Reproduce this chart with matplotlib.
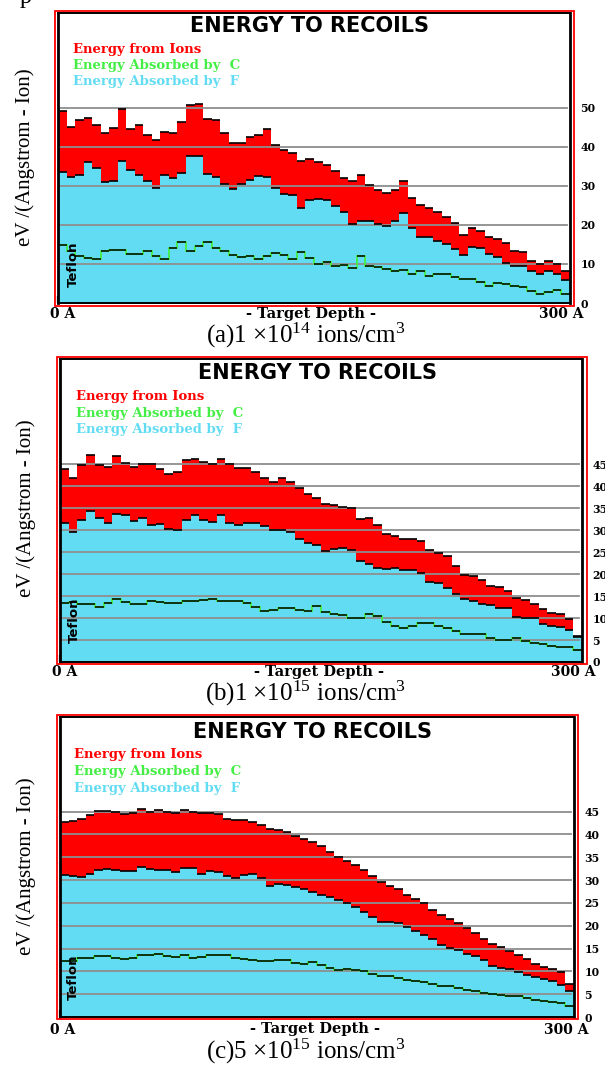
import numpy as np
import matplotlib
matplotlib.use('Agg')
import matplotlib.pyplot as plt
from matplotlib.patches import Rectangle

plt.rcParams['font.family'] = ['DejaVu Sans']
plt.rcParams['mathtext.fontset'] = 'custom'
plt.rcParams['mathtext.rm'] = 'Liberation Serif'
plt.rcParams['mathtext.it'] = 'Liberation Serif:italic'
plt.rcParams['mathtext.bf'] = 'Liberation Serif:bold'

W, H = 605, 1067

# 60 depth bins, 5 A each
depth_edges = np.linspace(0, 300, 61)

# (a) 1e14
ions_a = [49.1, 45.1, 46.8, 47.4, 45.5, 43.5, 44.9, 49.6, 44.6, 45.5, 43.0, 41.7, 43.8, 43.6, 46.3,
          50.6, 50.8, 47.0, 46.8, 43.4, 41.0, 41.0, 42.5, 43.1, 44.6, 40.4, 39.1, 38.3, 36.3, 36.8,
          36.0, 35.3, 33.8, 32.1, 31.1, 32.8, 30.2, 28.8, 28.2, 28.9, 31.1, 26.8, 25.1, 24.3, 23.4,
          22.1, 20.4, 17.5, 19.2, 18.5, 17.0, 16.4, 15.3, 13.4, 13.0, 10.7, 10.0, 10.7, 10.0, 8.1]
f_a = [33.4, 32.2, 32.8, 36.2, 34.5, 30.9, 31.1, 36.3, 34.0, 32.8, 31.1, 29.4, 32.8, 31.9, 33.2,
       37.6, 37.6, 33.0, 32.3, 30.4, 29.2, 30.4, 31.5, 32.4, 32.3, 29.4, 27.8, 27.7, 24.4, 26.4,
       26.5, 26.3, 24.7, 23.2, 20.2, 21.1, 21.1, 20.2, 19.8, 20.9, 23.0, 19.2, 17.0, 17.0, 15.9,
       15.1, 13.9, 12.4, 14.3, 14.1, 12.5, 11.8, 10.2, 9.4, 9.4, 8.3, 7.3, 8.3, 7.3, 6.0]
c_a = [14.9, 13.2, 11.9, 11.5, 11.3, 13.4, 13.6, 13.6, 12.5, 12.5, 13.2, 11.9, 11.3, 14.1, 15.6,
       13.4, 14.5, 15.5, 14.1, 13.2, 12.2, 11.7, 11.9, 11.3, 12.0, 12.8, 12.4, 11.3, 13.0, 11.5,
       10.0, 10.5, 9.4, 9.6, 9.0, 11.9, 9.4, 9.1, 8.7, 8.1, 8.4, 7.3, 8.3, 6.8, 7.5,
       7.4, 6.6, 6.2, 6.2, 5.4, 4.4, 5.0, 4.8, 4.3, 4.0, 3.0, 2.4, 2.8, 3.2, 2.3]

# (b) 1e15
ions_b = [44.0, 41.8, 44.8, 47.2, 44.9, 44.5, 46.8, 45.3, 44.5, 45.2, 45.0, 43.9, 42.7, 43.2, 46.0,
          46.2, 45.6, 45.0, 46.2, 45.2, 44.1, 44.1, 43.3, 42.0, 40.9, 41.8, 41.1, 39.7, 38.3, 37.3,
          35.9, 35.8, 35.4, 35.0, 32.6, 32.8, 31.1, 29.1, 28.8, 28.1, 28.1, 27.6, 25.4, 24.8, 24.1,
          21.8, 19.9, 19.5, 18.6, 17.3, 17.1, 16.1, 14.6, 14.1, 13.1, 12.0, 11.2, 10.9, 9.7, 6.0]
f_b = [31.6, 29.7, 32.4, 34.4, 32.8, 31.6, 33.7, 33.4, 32.0, 32.8, 31.3, 31.4, 30.3, 30.0, 32.4,
       33.4, 32.4, 31.9, 33.5, 31.6, 31.3, 31.7, 31.6, 30.9, 30.0, 30.1, 29.6, 28.1, 27.2, 26.7,
       25.2, 25.8, 25.9, 25.4, 23.0, 22.3, 21.4, 21.1, 21.3, 20.9, 21.0, 20.2, 18.2, 18.0, 16.9,
       15.4, 14.3, 14.0, 13.1, 12.9, 12.4, 12.2, 10.3, 10.1, 10.0, 8.6, 8.3, 8.0, 7.2, 5.6]
c_b = [13.5, 13.6, 13.3, 13.1, 12.6, 13.5, 14.3, 13.7, 13.1, 13.3, 13.9, 13.7, 13.4, 13.4, 13.9,
       13.9, 14.2, 14.4, 13.9, 14.0, 14.0, 13.4, 12.5, 11.6, 11.8, 12.4, 12.2, 11.9, 11.6, 12.7,
       11.5, 11.0, 10.7, 10.1, 10.1, 11.0, 10.5, 9.0, 8.1, 7.8, 8.1, 8.8, 8.8, 8.2, 7.7,
       7.1, 6.3, 6.3, 6.3, 5.4, 5.1, 5.0, 5.4, 4.8, 4.4, 4.1, 3.6, 3.5, 3.5, 2.7]

# (c) 5e15
ions_c = [42.7, 43.0, 43.4, 44.2, 45.2, 45.1, 45.0, 44.5, 44.7, 45.6, 44.9, 45.4, 45.0, 44.6, 45.4,
          45.0, 44.7, 44.6, 44.5, 43.4, 43.1, 43.1, 42.8, 42.1, 41.1, 40.9, 40.6, 39.7, 38.9, 38.4,
          37.5, 36.2, 35.1, 34.2, 33.3, 32.2, 30.9, 29.5, 28.7, 28.0, 26.8, 25.8, 24.9, 23.4, 22.4,
          21.4, 20.5, 19.4, 18.3, 17.0, 15.9, 15.4, 14.5, 13.6, 12.7, 11.7, 11.0, 10.5, 9.8, 7.2]
f_c = [31.1, 30.8, 30.6, 31.3, 32.3, 32.4, 32.3, 31.9, 32.0, 32.9, 32.4, 32.2, 32.2, 31.8, 32.6,
       32.6, 31.4, 31.9, 31.7, 30.9, 30.5, 31.1, 31.3, 30.4, 28.7, 29.1, 28.9, 28.4, 28.1, 27.3,
       26.7, 26.3, 25.6, 24.9, 24.0, 22.9, 21.9, 20.9, 20.7, 20.6, 19.7, 18.9, 18.0, 17.0, 15.7,
       15.2, 14.6, 13.9, 13.4, 12.4, 11.2, 10.8, 10.5, 9.9, 9.2, 8.8, 8.3, 7.9, 7.0, 5.7]
c_c = [12.2, 12.3, 12.9, 13.0, 13.4, 13.4, 13.0, 12.7, 13.0, 13.5, 13.5, 13.8, 13.4, 13.2, 13.5,
       13.0, 13.2, 13.5, 13.5, 13.5, 13.0, 12.7, 12.5, 12.2, 12.3, 12.4, 12.4, 11.9, 11.5, 12.0,
       11.4, 10.7, 10.4, 10.5, 10.3, 10.1, 9.5, 9.0, 8.9, 8.6, 8.2, 7.9, 7.6, 7.2, 6.8,
       6.8, 6.3, 6.0, 5.7, 5.3, 5.0, 4.9, 4.7, 4.5, 4.1, 3.8, 3.5, 3.2, 3.0, 2.3]

yticks_a = [0, 10, 20, 30, 40, 50]
yticks_bc = [0, 5, 10, 15, 20, 25, 30, 35, 40, 45]

title = 'ENERGY TO RECOILS'
legend_labels = ['Energy from Ions', 'Energy Absorbed by  C', 'Energy Absorbed by  F']
ylabel = 'eV /(Angstrom - Ion)'
xlabels = ['0 A', '- Target Depth -', '300 A']
captions = ['(a)1 \u00d710$^{14}$ ions/cm$^{3}$',
            '(b)1 \u00d710$^{15}$ ions/cm$^{3}$',
            '(c)5 \u00d710$^{15}$ ions/cm$^{3}$']

RED = '#ff0000'
CYAN = '#62dcf2'
GREEN = '#44ee44'
GRID = '#8e8e8e'

# layout of each panel in pixels (x from left, y from top)
panels = [
    dict(ax=(58, 13, 570, 303), frame=(55, 10.5, 573.5, 306), ymax=74.2,
         title=(309.5, 26.5), leg=(73, [49.3, 66, 81.7]), ylab=(25.5, 157),
         teflon=(73.5, 264.5), xl_y=314, xl_x=(49.5, 311, 539), cap=(306, 343)),
    dict(ax=(60, 359, 582, 662), frame=(57, 356.5, 587, 664), ymax=69.0,
         title=(317.5, 373.5), leg=(75.5, [396.7, 414, 430]), ylab=(26, 508),
         teflon=(74.5, 620), xl_y=672, xl_x=(52, 318.5, 551), cap=(306, 701)),
    dict(ax=(60, 717, 574, 1017), frame=(57, 714.5, 578, 1019), ymax=65.7,
         title=(312.5, 732), leg=(73.5, [754.3, 771.7, 788.3]), ylab=(26.5, 866),
         teflon=(73.5, 977), xl_y=1029.5, xl_x=(50.3, 315, 544), cap=(306, 1059)),
]

fig = plt.figure(figsize=(W / 100, H / 100), dpi=100)
fig.patch.set_facecolor('white')


def fx(x):
    return x / W


def fy(y):
    return 1 - y / H


def draw_panel(p, ions, f_abs, c_abs, yticks, caption):
    L, T, R, B = p['ax']
    ax = fig.add_axes([fx(L), fy(B), (R - L) / W, (B - T) / H])
    ax.set_xlim(0, 300)
    ax.set_ylim(0, p['ymax'])

    ax.stairs(ions, depth_edges, fill=True, color=RED, baseline=0, zorder=1)
    ax.stairs(f_abs, depth_edges, fill=True, color=CYAN, baseline=0, zorder=2)
    for v in yticks[1:]:
        ax.axhline(v, xmax=0.995, color=GRID, lw=1.3, zorder=3)
    ax.hlines(ions, depth_edges[:-1], depth_edges[1:], color='black', lw=1.2, zorder=4)
    ax.hlines(f_abs, depth_edges[:-1], depth_edges[1:], color='black', lw=1.2, zorder=4)
    ax.stairs(c_abs, depth_edges, baseline=None, color=GREEN, lw=1.3, zorder=4)
    ax.hlines(c_abs, depth_edges[:-1], depth_edges[1:], color='black', lw=1.1, zorder=5)

    ax.yaxis.tick_right()
    ax.set_yticks(yticks)
    ax.set_yticklabels([str(v) for v in yticks], fontfamily='DejaVu Serif',
                       fontweight='bold', fontsize=7.8)
    ax.tick_params(axis='y', length=0, pad=7.5)
    ax.set_xticks([0, 100, 200])
    ax.tick_params(axis='x', direction='in', length=5, width=1.6, color='black',
                   labelbottom=False)
    for side, s in ax.spines.items():
        s.set_color('black')
        s.set_linewidth(2.0 if side in ('left', 'right') else 1.4)
        s.set_zorder(6)

    l, t, r, b = p['frame']
    fig.add_artist(Rectangle((fx(l), fy(b)), (r - l) / W, (b - t) / H, fill=False,
                             edgecolor=RED, lw=1.3, transform=fig.transFigure))

    tx, ty = p['title']
    fig.text(fx(tx), fy(ty), title, ha='center', va='center', fontsize=15,
             fontweight='bold', color='black')

    lx, lys = p['leg']
    for lab, col, ly in zip(legend_labels, [RED, GREEN, CYAN], lys):
        fig.text(fx(lx), fy(ly), lab, ha='left', va='center', fontsize=9.5,
                 fontfamily='DejaVu Serif', fontweight='bold', color=col)

    yx, yy = p['ylab']
    fig.text(fx(yx), fy(yy), ylabel, rotation=90, ha='center', va='center',
             fontsize=15, fontfamily='Liberation Serif', color='black')

    ex, ey = p['teflon']
    fig.text(fx(ex), fy(ey), 'Teflon', rotation=90, ha='center', va='center',
             fontsize=9.5, fontweight='bold', color='black', zorder=10)

    x0, xm, x1 = p['xl_x']
    xy = fy(p['xl_y'])
    fig.text(fx(x0), xy, xlabels[0], ha='left', va='center', fontsize=10,
             fontfamily='DejaVu Serif', fontweight='bold')
    fig.text(fx(xm), xy, xlabels[1], ha='center', va='center', fontsize=10.5,
             fontfamily='DejaVu Serif', fontweight='bold')
    fig.text(fx(x1), xy, xlabels[2], ha='left', va='center', fontsize=10,
             fontfamily='DejaVu Serif', fontweight='bold')

    cx, cy = p['cap']
    fig.text(fx(cx), fy(cy), caption, ha='center', va='baseline', fontsize=18,
             fontfamily='Liberation Serif', color='black')


draw_panel(panels[0], ions_a, f_a, c_a, yticks_a, captions[0])
draw_panel(panels[1], ions_b, f_b, c_b, yticks_bc, captions[1])
draw_panel(panels[2], ions_c, f_c, c_c, yticks_bc, captions[2])

# clipped glyph from the line above the figure
fig.text(fx(20), fy(3), 'p', ha='left', va='baseline', fontsize=17.5,
         fontfamily='Liberation Serif')

fig.savefig('out.png', dpi=100)
